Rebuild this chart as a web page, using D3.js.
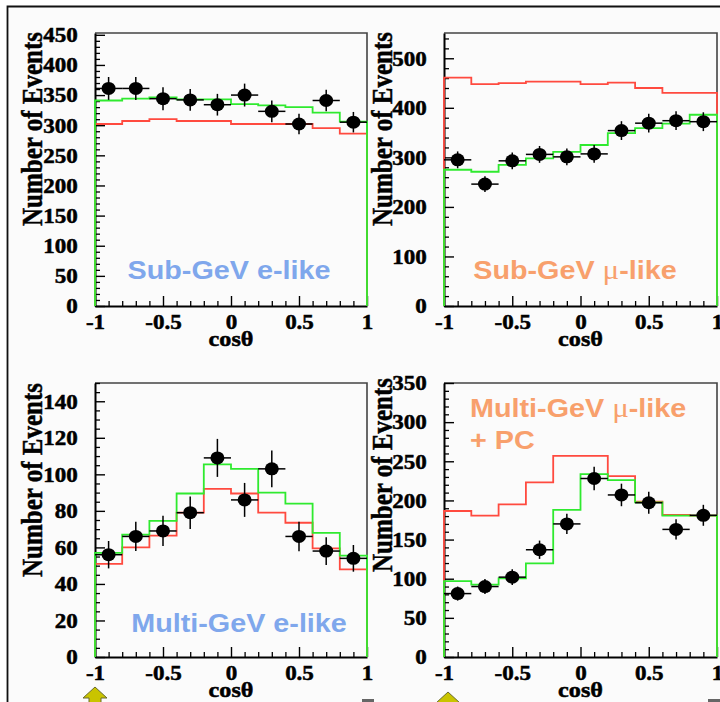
<!DOCTYPE html>
<html>
<head>
<meta charset="utf-8">
<script src="https://cdn.jsdelivr.net/npm/d3@7"></script>
<style>
  html, body { margin: 0; padding: 0; background: #ffffff; }
  svg { display: block; }
</style>
</head>
<body>
<svg id="chart" width="720" height="702"></svg>
<script>
// ---- shared zenith-angle binning ----
const binEdges   = [-1, -0.8, -0.6, -0.4, -0.2, 0, 0.2, 0.4, 0.6, 0.8, 1];
const binCenters = [-0.9, -0.7, -0.5, -0.3, -0.1, 0.1, 0.3, 0.5, 0.7, 0.9];
const xTickValues = [-1, -0.5, 0, 0.5, 1];
const xTickLabels = ["-1", "-0.5", "0", "0.5", "1"];

// ---- Sub-GeV e-like ----
const subEData  = [361, 361, 344, 342, 334, 350, 323, 302, 341, 305];
const subEErr   = [19, 19, 19, 18, 18, 19, 18, 17, 18, 17];
const subENoOsc = [302, 307, 310, 307, 307, 302, 302, 302, 295, 286];
const subEOsc   = [341, 344, 346, 343, 343, 335, 333, 330, 321, 306];
const subEYTicks = [0, 50, 100, 150, 200, 250, 300, 350, 400, 450];

// ---- Sub-GeV mu-like ----
const subMuData  = [295, 246, 293, 306, 301, 307, 354, 369, 374, 372];
const subMuErr   = [17, 16, 17, 17, 17, 18, 19, 19, 19, 19];
const subMuNoOsc = [461, 448, 450, 453, 453, 448, 451, 440, 430, 430];
const subMuOsc   = [275, 271, 285, 298, 311, 325, 349, 359, 368, 386];
const subMuYTicks = [0, 100, 200, 300, 400, 500];

// ---- Multi-GeV e-like ----
const multiEData  = [56, 66, 69, 79, 109, 86, 103, 66, 58, 54];
const multiEErr   = [7.5, 8, 8.3, 8.9, 10.4, 9.3, 10.1, 8.1, 7.6, 7.3];
const multiENoOsc = [51, 60, 66.5, 79, 92, 89.5, 79, 73.5, 59.5, 48];
const multiEOsc   = [57, 67, 74.5, 89.5, 105.5, 103, 90, 84, 68, 55.5];
const multiEYTicks = [0, 20, 40, 60, 80, 100, 120, 140];

// ---- Multi-GeV mu-like + PC ----
const multiMuData  = [81, 90, 102, 137, 170, 228, 207, 197, 163, 181];
const multiMuErr   = [9, 9.5, 10, 11.7, 13, 15, 14.4, 14, 12.8, 13.4];
const multiMuNoOsc = [186.5, 180.5, 195, 223, 257, 257, 231, 198.5, 181.5, 180.5];
const multiMuOsc   = [97, 92.5, 100.5, 119.5, 188, 233.5, 226, 197.5, 180.5, 180.5];
const multiMuYTicks = [0, 50, 100, 150, 200, 250, 300, 350];

// ---- styling ----
const GREEN = "#2fea2f";
const RED = "#ff4a3f";
const BLUE_LABEL = "#7fa7ec";
const ORANGE_LABEL = "#f8a06c";
const SX = 1.15;                     // horizontal widening of all lettering
const SERIF = "'Liberation Serif', 'Times New Roman', serif";
const SANS = "'Liberation Sans', Arial, sans-serif";

const svg = d3.select("#chart");

// page background and slide border
svg.append("rect").attr("x", 7).attr("y", 6).attr("width", 713).attr("height", 696)
  .attr("fill", "#fbfbfb");
svg.append("path").attr("d", "M7.5,702V6.5H720")
  .attr("fill", "none").attr("stroke", "#111").attr("stroke-width", 1.8);

const panels = [
  { data: subEData, err: subEErr, noOsc: subENoOsc, osc: subEOsc, yTicks: subEYTicks,
    x0: 95, x1: 367, yBottom: 306, yTop: 33, ymax: 453, minorStep: 10,
    titleX: 42, titleY: 129,
    label: [{ x: 229, y: 279, anchor: "middle", parts: [["Sub-GeV e-like", false]] }],
    labelColor: BLUE_LABEL },
  { data: subMuData, err: subMuErr, noOsc: subMuNoOsc, osc: subMuOsc, yTicks: subMuYTicks,
    x0: 444, x1: 717, yBottom: 306, yTop: 33, ymax: 551, minorStep: 20,
    titleX: 392, titleY: 129,
    label: [{ x: 575, y: 279, anchor: "middle", parts: [["Sub-GeV ", false], ["\u03bc", true], ["-like", false]] }],
    labelColor: ORANGE_LABEL },
  { data: multiEData, err: multiEErr, noOsc: multiENoOsc, osc: multiEOsc, yTicks: multiEYTicks,
    x0: 95, x1: 367, yBottom: 657, yTop: 383, ymax: 150, minorStep: 5,
    titleX: 42, titleY: 480,
    label: [{ x: 239, y: 632, anchor: "middle", parts: [["Multi-GeV e-like", false]] }],
    labelColor: BLUE_LABEL },
  { data: multiMuData, err: multiMuErr, noOsc: multiMuNoOsc, osc: multiMuOsc, yTicks: multiMuYTicks,
    x0: 444, x1: 717, yBottom: 657, yTop: 383, ymax: 350, minorStep: 10,
    titleX: 392, titleY: 475,
    label: [
      { x: 470, y: 417, anchor: "start", parts: [["Multi-GeV ", false], ["\u03bc", true], ["-like", false]] },
      { x: 470, y: 449, anchor: "start", parts: [["+ PC", false]] }
    ],
    labelColor: ORANGE_LABEL }
];

function styleAxis(sel, tickWidth) {
  sel.attr("font-family", SERIF).attr("font-size", 20).attr("font-weight", "bold");
  sel.selectAll(".tick line").attr("stroke", "#000").attr("stroke-width", tickWidth);
  sel.selectAll(".tick text").attr("stroke", "#000").attr("stroke-width", 0.5);
  sel.select(".domain").attr("stroke", "#000").attr("stroke-width", 2);
}

function drawPanel(p) {
  const x = d3.scaleLinear().domain([-1, 1]).range([p.x0, p.x1]);
  const y = d3.scaleLinear().domain([0, p.ymax]).range([p.yBottom, p.yTop]);
  const g = svg.append("g");

  // frame (top + right)
  g.append("path")
    .attr("d", `M${p.x0},${p.yTop}H${p.x1}V${p.yBottom}`)
    .attr("fill", "none").attr("stroke", "#444").attr("stroke-width", 1.6);

  // x axis: minor ticks every 0.1, labelled majors every 0.5
  const xMinor = d3.range(-10, 11).map(k => k / 10).filter(v => !xTickValues.includes(v));
  g.append("g").attr("transform", `translate(0,${p.yBottom})`)
    .call(d3.axisBottom(x).tickValues(xMinor).tickSize(-5).tickFormat(""))
    .call(a => { a.select(".domain").remove(); styleAxis(a, 1.3); });
  g.append("g").attr("transform", `translate(0,${p.yBottom})`)
    .call(d3.axisBottom(x).tickValues(xTickValues).tickSize(-10).tickSizeOuter(0)
      .tickPadding(9).tickFormat((d, i) => xTickLabels[i]))
    .call(a => {
      styleAxis(a, 1.4);
      a.selectAll(".tick text").attr("transform", `scale(${SX},1)`);
    });

  // y axis: minor and labelled major ticks, all pointing inward
  const step = p.yTicks[1] - p.yTicks[0];
  const yMinor = d3.range(0, p.ymax + 0.001, p.minorStep).filter(v => v % step !== 0);
  g.append("g").attr("transform", `translate(${p.x0},0)`)
    .call(d3.axisLeft(y).tickValues(yMinor).tickSize(-5).tickFormat(""))
    .call(a => { a.select(".domain").remove(); styleAxis(a, 1.3); });
  g.append("g").attr("transform", `translate(${p.x0},0)`)
    .call(d3.axisLeft(y).tickValues(p.yTicks).tickSize(-10).tickSizeOuter(0)
      .tickPadding(15).tickFormat(d3.format("d")))
    .call(a => {
      styleAxis(a, 1.4);
      a.selectAll(".tick text").attr("transform", `scale(${SX},1)`).attr("dy", "0.34em");
    });

  // axis titles
  g.append("text")
    .attr("transform", `translate(${(p.x0 + p.x1) / 2},${p.yBottom + 40}) scale(${SX},1)`)
    .attr("text-anchor", "middle").attr("font-family", SERIF)
    .attr("font-size", 21).attr("font-weight", "bold").attr("fill", "#000")
    .attr("stroke", "#000").attr("stroke-width", 0.5)
    .text("cos\u03b8");
  g.append("text")
    .attr("transform", `translate(${p.titleX},${p.titleY}) scale(${SX},1) rotate(-90)`)
    .attr("text-anchor", "middle").attr("font-family", SERIF)
    .attr("font-size", 25).attr("font-weight", "bold").attr("fill", "#000")
    .attr("stroke", "#000").attr("stroke-width", 0.4)
    .text("Number of Events");

  // histograms: no-oscillation (red) underneath, oscillated fit (green) on top
  const stepPoints = vals => {
    const pts = [[binEdges[0], 0]];
    vals.forEach((v, i) => { pts.push([binEdges[i], v]); pts.push([binEdges[i + 1], v]); });
    pts.push([binEdges[binEdges.length - 1], 0]);
    return pts;
  };
  const line = d3.line().x(d => x(d[0])).y(d => y(d[1]));
  g.append("path").attr("d", line(stepPoints(p.noOsc)))
    .attr("fill", "none").attr("stroke", RED).attr("stroke-width", 1.8);
  g.append("path").attr("d", line(stepPoints(p.osc)))
    .attr("fill", "none").attr("stroke", GREEN).attr("stroke-width", 1.8);

  // data points with error bars
  const pts = g.append("g").selectAll("g").data(p.data).join("g");
  pts.append("line")
    .attr("x1", (d, i) => x(binCenters[i] - 0.1)).attr("x2", (d, i) => x(binCenters[i] + 0.1))
    .attr("y1", d => y(d)).attr("y2", d => y(d))
    .attr("stroke", "#000").attr("stroke-width", 1.5);
  pts.append("line")
    .attr("x1", (d, i) => x(binCenters[i])).attr("x2", (d, i) => x(binCenters[i]))
    .attr("y1", (d, i) => y(d - p.err[i])).attr("y2", (d, i) => y(d + p.err[i]))
    .attr("stroke", "#000").attr("stroke-width", 1.5);
  pts.append("ellipse")
    .attr("cx", (d, i) => x(binCenters[i])).attr("cy", d => y(d))
    .attr("rx", 7).attr("ry", 6.5).attr("fill", "#000");

  // sample label
  p.label.forEach(l => {
    const t = g.append("text")
      .attr("transform", `translate(${l.x},${l.y}) scale(${SX},1)`)
      .attr("text-anchor", l.anchor).attr("font-family", SANS)
      .attr("font-size", 25).attr("font-weight", "bold").attr("fill", p.labelColor);
    l.parts.forEach(([s, greek]) => {
      const ts = t.append("tspan").text(s);
      if (greek) ts.attr("font-family", SERIF).attr("font-weight", "normal").attr("font-size", 27);
    });
  });
}

panels.forEach(drawPanel);

// slide ornaments peeking in along the lower edge
svg.append("path").attr("d", "M95,687L83,698H89V703H101V698H107Z")
  .attr("fill", "#c9c400").attr("stroke", "#6a6a30").attr("stroke-width", 1);
svg.append("path").attr("d", "M448,692L460,703H436Z")
  .attr("fill", "#c9c400").attr("stroke", "#6a6a30").attr("stroke-width", 1);
svg.append("rect").attr("x", 362).attr("y", 699).attr("width", 12).attr("height", 4).attr("fill", "#666");
svg.append("rect").attr("x", 708).attr("y", 699).attr("width", 12).attr("height", 4).attr("fill", "#666");
</script>
</body>
</html>
